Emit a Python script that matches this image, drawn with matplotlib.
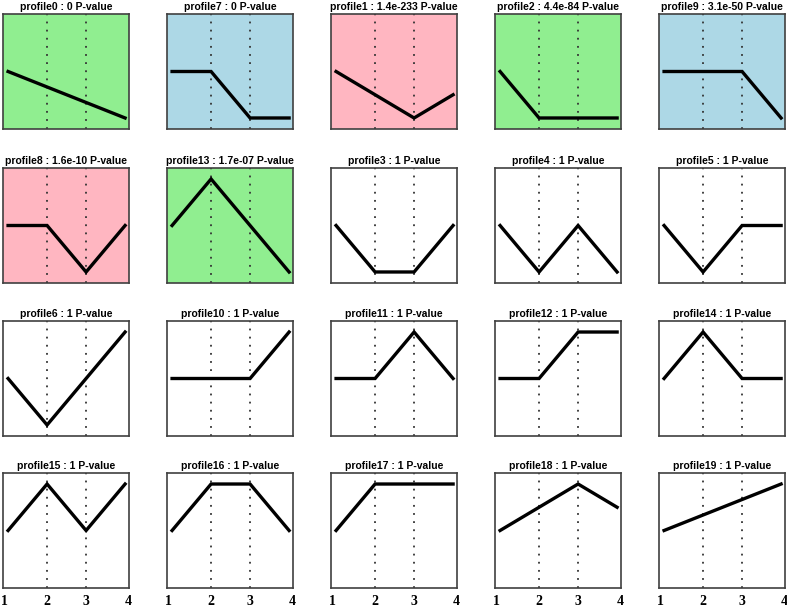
import matplotlib
matplotlib.use("Agg")
import matplotlib.pyplot as plt
from matplotlib.transforms import ScaledTranslation

# profile data (STEM style), in the order shown
names = ["profile0", "profile7", "profile1", "profile2", "profile9",
         "profile8", "profile13", "profile3", "profile4", "profile5",
         "profile6", "profile10", "profile11", "profile12", "profile14",
         "profile15", "profile16", "profile17", "profile18", "profile19"]
pvalues = ["0", "0", "1.4e-233", "4.4e-84", "3.1e-50",
           "1.6e-10", "1.7e-07", "1", "1", "1",
           "1", "1", "1", "1", "1",
           "1", "1", "1", "1", "1"]
profiles = [[0, -1, -2, -3], [0, 0, -1, -1], [0, -1, -2, -1], [0, -1, -1, -1], [0, 0, 0, -1],
            [0, 0, -1, 0], [0, 1, 0, -1], [0, -1, -1, 0], [0, -1, 0, -1], [0, -1, 0, 0],
            [0, -1, 0, 1], [0, 0, 0, 1], [0, 0, 1, 0], [0, 0, 1, 1], [0, 1, 0, 0],
            [0, 1, 0, 1], [0, 1, 1, 0], [0, 1, 1, 1], [0, 1, 2, 1], [0, 1, 2, 3]]
groups = ["green", "blue", "pink", "green", "blue",
          "pink", "green", "none", "none", "none",
          "none", "none", "none", "none", "none",
          "none", "none", "none", "none", "none"]
timepoints = [1, 2, 3, 4]

bg = {"green": "#90ee90", "blue": "#add8e6", "pink": "#ffb6c1", "none": "white"}

W, H = 787.0, 609.0
fig = plt.figure(figsize=(W / 100, H / 100), dpi=100)

col_left = [3, 167, 331, 495, 659]
row_top = [14, 168, 321, 473]
pw, ph = 126, 115

for i in range(len(names)):
    r, c = i // 5, i % 5
    ax = fig.add_axes([col_left[c] / W, 1 - (row_top[r] + ph) / H, pw / W, ph / H])
    ax.set_facecolor(bg[groups[i]])
    vals = profiles[i]
    m = max(abs(v) for v in vals)
    ax.set_ylim(-1.237 * m, 1.237 * m)
    ax.set_xlim(0.87, 4.1)
    for xv in timepoints[1:3]:
        ax.axvline(xv, color="#333333", lw=1.3, linestyle=(0, (1, 3.5)))
    ax.plot(timepoints, vals, color="black", lw=2.4, solid_joinstyle="miter")
    ax.set_yticks([])
    if r == 3:
        ax.set_xticks(timepoints)
        ax.set_xticklabels([str(t) for t in timepoints], family="Liberation Serif",
                           fontweight="bold", fontsize=10)
        ax.tick_params(axis="x", length=0, pad=5)
        labs = ax.get_xticklabels()
        # end labels sit at the panel edges in the original
        labs[0].set_transform(labs[0].get_transform() + ScaledTranslation(-0.04, 0, fig.dpi_scale_trans))
        labs[-1].set_transform(labs[-1].get_transform() + ScaledTranslation(0.03, 0, fig.dpi_scale_trans))
    else:
        ax.set_xticks([])
    for s in ax.spines.values():
        s.set_color("#404040")
        s.set_linewidth(1.2)
    ax.set_title("%s : %s P-value" % (names[i], pvalues[i]),
                 family="Liberation Sans", fontweight="bold", fontsize=7.5, pad=3)

fig.savefig("out.png", dpi=100)
